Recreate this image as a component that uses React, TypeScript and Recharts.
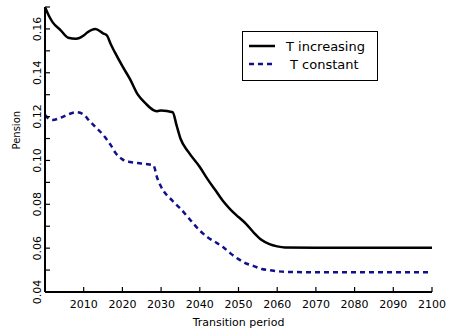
import { LineChart, Line, XAxis, YAxis, Legend } from 'recharts'

const years = [
  2000, 2001, 2002, 2004, 2006, 2008, 2010, 2011, 2013, 2015, 2016, 2017, 2018, 2020,
  2022, 2024, 2026, 2028, 2029, 2030, 2033, 2034, 2035, 2037, 2040, 2042, 2044, 2046,
  2048, 2050, 2052, 2054, 2056, 2058, 2060, 2062, 2070, 2080, 2090, 2100,
]
const tIncreasing = [
  0.17, 0.166, 0.163, 0.1595, 0.156, 0.1555, 0.157, 0.1585, 0.16, 0.158, 0.157, 0.153, 0.1495, 0.143,
  0.137, 0.13, 0.126, 0.123, 0.1225, 0.1228, 0.122, 0.116, 0.11, 0.104, 0.097, 0.0915, 0.0865, 0.0815,
  0.0775, 0.0742, 0.071, 0.067, 0.0637, 0.0618, 0.0608, 0.0603, 0.0602, 0.0602, 0.0602, 0.0602,
]
const tConstant = [
  0.1208, 0.119, 0.1185, 0.1195, 0.121, 0.122, 0.121, 0.119, 0.1153, 0.1117, 0.1095, 0.107, 0.104, 0.1005,
  0.0993, 0.0988, 0.0984, 0.0978, 0.092, 0.088, 0.0815, 0.0797, 0.078, 0.074, 0.068, 0.065, 0.0628, 0.0605,
  0.0575, 0.055, 0.053, 0.0518, 0.0505, 0.05, 0.0495, 0.0492, 0.049, 0.049, 0.049, 0.049,
]
const xTicks = [2000, 2010, 2020, 2030, 2040, 2050, 2060, 2070, 2080, 2090, 2100]
const yTicks = [0.04, 0.05, 0.06, 0.07, 0.08, 0.09, 0.1, 0.11, 0.12, 0.13, 0.14, 0.15, 0.16, 0.17]
const yLabels = [0.04, 0.06, 0.08, 0.1, 0.12, 0.14, 0.16]

const data = years.map((year, i) => ({
  year,
  inc: tIncreasing[i],
  cst: tConstant[i],
}))

const font = '"DejaVu Sans", sans-serif'
const navy = '#10108c'

function BottomTick({ x, y, payload }: any) {
  return (
    <g>
      <line x1={x} x2={x} y1={y} y2={y - 5} stroke="#000" strokeWidth={1.2} />
      {payload.value !== 2000 && (
        <text x={x} y={y + 16} textAnchor="middle" fontSize={11} fontFamily={font} fill="#000">
          {payload.value}
        </text>
      )}
    </g>
  )
}

function TopTick({ x, y }: any) {
  return <line x1={x} x2={x} y1={y} y2={y + 5} stroke="#000" strokeWidth={1.2} />
}

function LeftTick({ x, y, payload }: any) {
  const show = yLabels.some((v) => Math.abs(v - payload.value) < 1e-6)
  return (
    <g>
      <line x1={x} x2={x + 5} y1={y} y2={y} stroke="#000" strokeWidth={1.2} />
      {show && (
        <text
          x={41}
          y={y}
          transform={`rotate(-90 41 ${y})`}
          textAnchor="middle"
          fontSize={11}
          fontFamily={font}
          fill="#000"
        >
          {payload.value.toFixed(2)}
        </text>
      )}
    </g>
  )
}

function RightTick({ x, y }: any) {
  return <line x1={x} x2={x - 5} y1={y} y2={y} stroke="#000" strokeWidth={1.2} />
}

function LegendBox() {
  return (
    <svg width={136} height={50}>
      <rect x={0.5} y={0.5} width={135} height={49} fill="#fff" stroke="#000" strokeWidth={1} />
      <line x1={7} x2={33} y1={15} y2={15} stroke="#000" strokeWidth={2.5} />
      <text x={44} y={19.5} fontSize={13} fontFamily={font} fill="#000">
        T increasing
      </text>
      <line x1={7} x2={33} y1={33} y2={33} stroke={navy} strokeWidth={2.5} strokeDasharray="5 4" />
      <text x={48} y={37.5} fontSize={13} fontFamily={font} fill="#000">
        T constant
      </text>
    </svg>
  )
}

export default function App() {
  return (
    <div style={{ position: 'absolute', left: 0, top: 0, width: 450, height: 333, background: '#fff' }}>
      <LineChart width={450} height={333} data={data} margin={{ top: 7, right: 18, bottom: 0, left: 0 }}>
        <XAxis
          dataKey="year"
          type="number"
          domain={[2000, 2100]}
          ticks={xTicks}
          height={41}
          tickSize={0}
          tickMargin={0}
          tick={<BottomTick />}
          axisLine={{ stroke: '#000', strokeWidth: 2 }}
          tickLine={false}
          allowDataOverflow
          label={{
            value: 'Transition period',
            position: 'insideBottom',
            offset: 7,
            fontSize: 11,
            fontFamily: font,
            fill: '#000',
          }}
        />
        <XAxis
          xAxisId="top"
          orientation="top"
          dataKey="year"
          type="number"
          domain={[2000, 2100]}
          ticks={xTicks}
          height={0}
          tickSize={0}
          tickMargin={0}
          tick={<TopTick />}
          axisLine={{ stroke: '#000', strokeWidth: 2 }}
          tickLine={false}
          allowDataOverflow
        />
        <YAxis
          type="number"
          domain={[0.04, 0.17]}
          ticks={yTicks}
          width={45}
          tickSize={0}
          tickMargin={0}
          tick={<LeftTick />}
          axisLine={{ stroke: '#000', strokeWidth: 2 }}
          tickLine={false}
          allowDataOverflow
          interval={0}
          label={{
            value: 'Pension',
            angle: -90,
            position: 'insideLeft',
            offset: 16,
            fontSize: 10,
            fontFamily: font,
            fill: '#000',
          }}
        />
        <YAxis
          yAxisId="right"
          orientation="right"
          type="number"
          domain={[0.04, 0.17]}
          ticks={yTicks}
          width={0}
          tickSize={0}
          tickMargin={0}
          tick={<RightTick />}
          axisLine={{ stroke: '#000', strokeWidth: 2 }}
          tickLine={false}
          allowDataOverflow
          interval={0}
        />
        <Legend
          layout="vertical"
          align="center"
          verticalAlign="middle"
          wrapperStyle={{ left: 242, top: 31, width: 136, height: 50 }}
          content={() => <LegendBox />}
        />
        <Line
          type="monotone"
          dataKey="inc"
          stroke="#000"
          strokeWidth={2.5}
          dot={false}
          isAnimationActive={false}
        />
        <Line
          type="monotone"
          dataKey="cst"
          stroke={navy}
          strokeWidth={2.5}
          strokeDasharray="5 4"
          dot={false}
          isAnimationActive={false}
        />
      </LineChart>
    </div>
  )
}
